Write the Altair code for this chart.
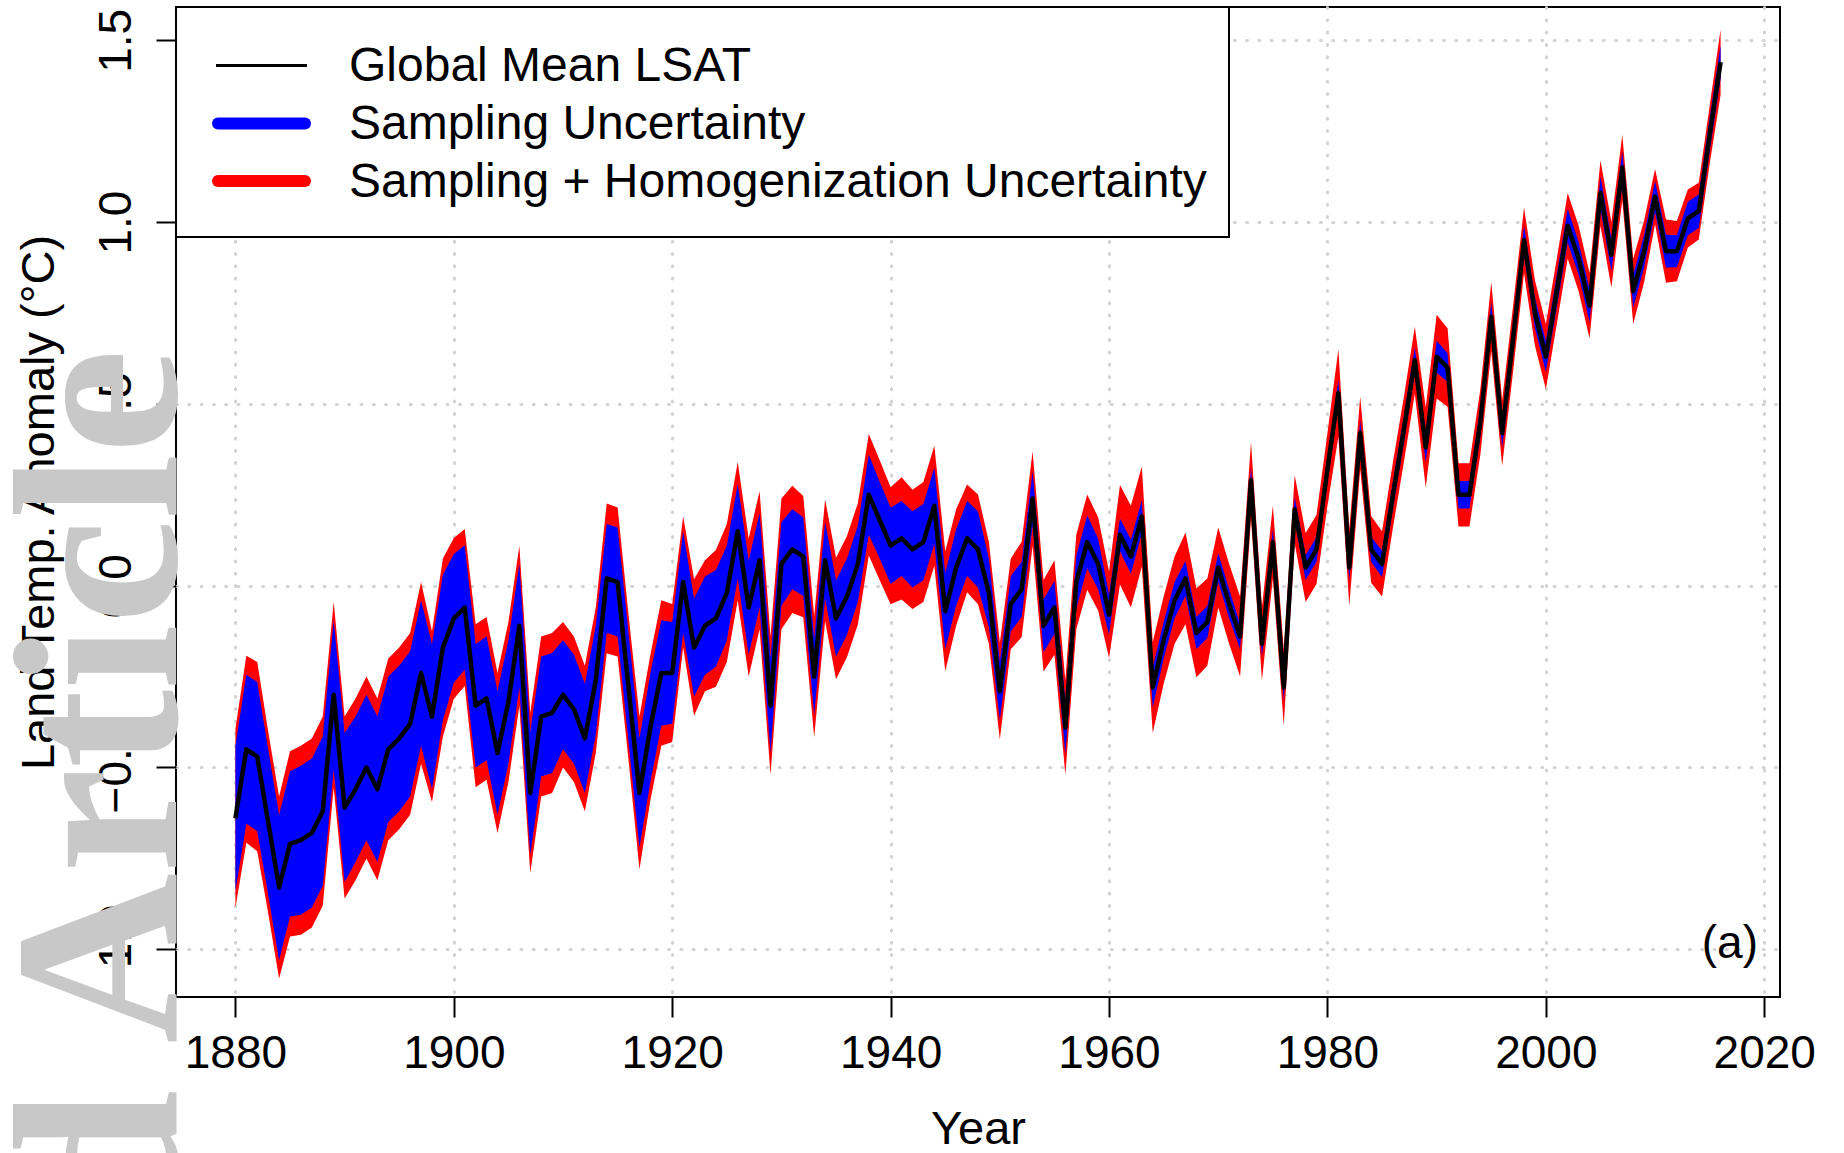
import altair as alt
import pandas as pd

# Annual global mean land surface air temperature anomaly, 1880-2016 (deg C)
years = list(range(1880, 2017))

lsat = [
    -0.64, -0.45, -0.47, -0.65, -0.83, -0.71, -0.70, -0.68, -0.62, -0.30,
    -0.61, -0.56, -0.50, -0.56, -0.45, -0.42, -0.38, -0.24, -0.36, -0.17,
    -0.09, -0.06, -0.33, -0.31, -0.46, -0.32, -0.11, -0.57, -0.36, -0.35,
    -0.30, -0.34, -0.42, -0.26, 0.02, 0.01, -0.28, -0.57, -0.39, -0.24,
    -0.24, 0.01, -0.17, -0.11, -0.09, -0.02, 0.15, -0.06, 0.07, -0.33,
    0.06, 0.10, 0.08, -0.25, 0.07, -0.09, -0.03, 0.06, 0.25, 0.18,
    0.11, 0.13, 0.10, 0.12, 0.22, -0.07, 0.05, 0.13, 0.10, -0.02,
    -0.29, -0.05, -0.01, 0.24, -0.11, -0.06, -0.39, 0.01, 0.12, 0.06,
    -0.08, 0.14, 0.08, 0.19, -0.28, -0.15, -0.04, 0.02, -0.13, -0.10,
    0.05, -0.05, -0.14, 0.29, -0.16, 0.12, -0.28, 0.21, 0.05, 0.10,
    0.32, 0.53, 0.05, 0.42, 0.10, 0.06, 0.25, 0.43, 0.62, 0.38,
    0.63, 0.60, 0.25, 0.25, 0.45, 0.74, 0.42, 0.68, 0.95, 0.75,
    0.63, 0.81, 0.99, 0.90, 0.77, 1.08, 0.91, 1.15, 0.81, 0.92,
    1.07, 0.92, 0.92, 1.01, 1.03, 1.24, 1.44,
]

# Half-width of the sampling uncertainty band
sampling_hw = [
    0.200, 0.205, 0.205, 0.200, 0.200, 0.200, 0.205, 0.205, 0.205, 0.205,
    0.205, 0.200, 0.200, 0.200, 0.200, 0.200, 0.200, 0.200, 0.200, 0.200,
    0.177, 0.171, 0.170, 0.170, 0.170, 0.170, 0.170, 0.170, 0.165, 0.165,
    0.150, 0.150, 0.150, 0.150, 0.150, 0.150, 0.150, 0.150, 0.150, 0.145,
    0.140, 0.140, 0.135, 0.135, 0.133, 0.130, 0.130, 0.130, 0.130, 0.130,
    0.115, 0.110, 0.108, 0.105, 0.105, 0.105, 0.105, 0.105, 0.110, 0.105,
    0.105, 0.103, 0.105, 0.105, 0.105, 0.105, 0.105, 0.103, 0.105, 0.095,
    0.080, 0.076, 0.076, 0.075, 0.073, 0.073, 0.073, 0.073, 0.073, 0.070,
    0.055, 0.045, 0.047, 0.046, 0.055, 0.050, 0.050, 0.048, 0.044, 0.044,
    0.040, 0.040, 0.035, 0.035, 0.035, 0.035, 0.035, 0.033, 0.034, 0.034,
    0.034, 0.035, 0.035, 0.035, 0.034, 0.037, 0.037, 0.037, 0.035, 0.040,
    0.044, 0.039, 0.038, 0.038, 0.040, 0.040, 0.040, 0.040, 0.040, 0.042,
    0.042, 0.045, 0.046, 0.045, 0.045, 0.045, 0.045, 0.045, 0.045, 0.045,
    0.043, 0.045, 0.044, 0.046, 0.046, 0.046, 0.046,
]

# Half-width of the combined sampling + homogenization uncertainty band
total_hw = [
    0.246, 0.257, 0.260, 0.250, 0.250, 0.255, 0.260, 0.260, 0.260, 0.255,
    0.250, 0.250, 0.250, 0.250, 0.250, 0.250, 0.250, 0.250, 0.235, 0.245,
    0.221, 0.216, 0.224, 0.224, 0.220, 0.220, 0.220, 0.220, 0.220, 0.220,
    0.200, 0.200, 0.200, 0.200, 0.206, 0.205, 0.200, 0.210, 0.200, 0.200,
    0.190, 0.180, 0.188, 0.180, 0.188, 0.190, 0.190, 0.190, 0.190, 0.190,
    0.180, 0.175, 0.167, 0.167, 0.167, 0.167, 0.167, 0.167, 0.167, 0.165,
    0.161, 0.168, 0.164, 0.165, 0.165, 0.165, 0.160, 0.148, 0.151, 0.140,
    0.133, 0.125, 0.131, 0.130, 0.126, 0.130, 0.130, 0.130, 0.131, 0.128,
    0.119, 0.137, 0.140, 0.138, 0.125, 0.120, 0.120, 0.126, 0.122, 0.120,
    0.110, 0.110, 0.110, 0.105, 0.100, 0.100, 0.104, 0.094, 0.095, 0.095,
    0.100, 0.120, 0.105, 0.100, 0.092, 0.090, 0.090, 0.090, 0.092, 0.110,
    0.115, 0.108, 0.087, 0.087, 0.090, 0.095, 0.090, 0.090, 0.090, 0.090,
    0.090, 0.090, 0.090, 0.090, 0.090, 0.090, 0.090, 0.090, 0.090, 0.085,
    0.076, 0.087, 0.083, 0.080, 0.078, 0.080, 0.090,
]

x_ticks = [1880, 1900, 1920, 1940, 1960, 1980, 2000, 2020]
y_ticks = [-1.0, -0.5, 0.0, 0.5, 1.0, 1.5]

legend_labels = [
    "Global Mean LSAT",
    "Sampling Uncertainty",
    "Sampling + Homogenization Uncertainty",
]
legend_colors = ["#000000", "#0000ff", "#ff0000"]

FONT = "Liberation Sans"

df = pd.DataFrame({"year": years, "lsat": lsat, "s": sampling_hw, "t": total_hw})
df["samp_lo"] = df["lsat"] - df["s"]
df["samp_hi"] = df["lsat"] + df["s"]
df["tot_lo"] = df["lsat"] - df["t"]
df["tot_hi"] = df["lsat"] + df["t"]

x_scale = alt.Scale(domain=[1874.56, 2021.44], nice=False, zero=False)
y_scale = alt.Scale(domain=[-1.1312, 1.5916], nice=False, zero=False)

common_axis = dict(
    grid=True, gridColor="#d3d3d3", gridDash=[1, 11.3], gridWidth=3, gridCap="round",
    domain=False, ticks=True, tickSize=20, tickWidth=2, tickColor="black",
    labelFont=FONT, labelFontSize=46, labelColor="black", labelFlush=False,
    labelOverlap=False, titleFont=FONT, titleFontSize=47, titleFontWeight="normal",
    titleColor="black", zindex=0,
)

x_axis = alt.Axis(
    values=x_ticks, format="d", title="Year",
    labelPadding=50, labelBaseline="alphabetic",
    titleX=802, titleY=146, titleAlign="center", titleBaseline="alphabetic",
    **common_axis,
)
y_axis = alt.Axis(
    values=y_ticks, format=".1f", title="Land Temp. Anomaly (°C)",
    labelAngle=270, labelAlign="center", labelBaseline="alphabetic", labelPadding=26,
    titleAngle=270, titleX=-123, titleY=495, titleAlign="center",
    titleBaseline="alphabetic",
    **common_axis,
)

X = alt.X("year:Q", scale=x_scale, axis=x_axis)
base = alt.Chart(df)

total_band = base.mark_area(color="#ff0000", opacity=1).encode(
    x=X,
    y=alt.Y("tot_lo:Q", scale=y_scale, axis=y_axis),
    y2="tot_hi:Q",
)
sampling_band = base.mark_area(color="#0000ff", opacity=1).encode(
    x=X,
    y=alt.Y("samp_lo:Q", scale=y_scale, axis=y_axis),
    y2="samp_hi:Q",
)
mean_line = base.mark_line(color="black", strokeWidth=4.5, strokeJoin="round").encode(
    x=X,
    y=alt.Y("lsat:Q", scale=y_scale, axis=y_axis),
)

# Legend box in the top-left corner of the panel
one = pd.DataFrame({"k": [0]})
legend_box = alt.Chart(one).mark_rect(fill="white", stroke="black", strokeWidth=2).encode(
    x=alt.value(0), x2=alt.value(1053), y=alt.value(0), y2=alt.value(230)
)

legend_rows_y = [58.5, 116.5, 174.0]
legend_layers = []
for i, (lab, col) in enumerate(zip(legend_labels, legend_colors)):
    if i == 0:
        sample = alt.Chart(one).mark_rule(color=col, strokeWidth=3).encode(
            x=alt.value(40), x2=alt.value(131), y=alt.value(legend_rows_y[i])
        )
    else:
        sample = alt.Chart(one).mark_rule(color=col, strokeWidth=12, strokeCap="round").encode(
            x=alt.value(42), x2=alt.value(129), y=alt.value(legend_rows_y[i])
        )
    label = alt.Chart(pd.DataFrame({"label": [lab]})).mark_text(
        font=FONT, fontSize=48, color="black", align="left", baseline="middle"
    ).encode(x=alt.value(173), y=alt.value(legend_rows_y[i] + 1.5), text="label:N")
    legend_layers += [sample, label]

panel_tag = alt.Chart(pd.DataFrame({"tag": ["(a)"]})).mark_text(
    font=FONT, fontSize=46, color="black", align="right", baseline="alphabetic"
).encode(x=alt.value(1582), y=alt.value(951), text="tag:N")

watermark = alt.Chart(pd.DataFrame({"wm": ["Accepted Article"]})).mark_text(
    font="Liberation Serif", fontSize=236, fontWeight="bold", color="#c8c8c8", angle=270,
    align="right", baseline="alphabetic",
).encode(x=alt.value(0), y=alt.value(342), text="wm:N")

chart = alt.layer(
    total_band, sampling_band, mean_line, legend_box, *legend_layers, panel_tag, watermark
).properties(
    width=1604,
    height=990,
    padding={"left": 176, "top": 7, "right": 64, "bottom": 156},
    autosize=alt.AutoSizeParams(type="none"),
    background="white",
).configure_view(stroke="black", strokeWidth=2)

chart.save("out.html", embed_options={"renderer": "svg", "actions": False})
